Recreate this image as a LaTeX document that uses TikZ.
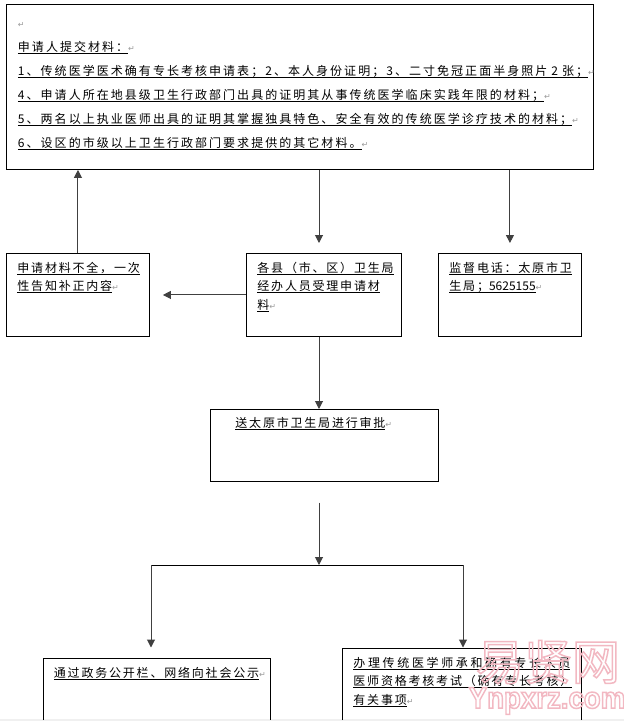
\documentclass[tikz,border=0pt]{standalone}
\usepackage{fontspec}
\usepackage{xcolor}
\setmainfont{Noto Sans CJK SC}[LetterSpace=15]
\newfontfamily\marksym{DejaVu Sans}
\newfontfamily\stampfont{Liberation Sans Bold}
\newfontfamily\stampcjk{Noto Sans CJK SC}
\newcommand{\ul}[1]{\leavevmode\setbox0\hbox{#1}\rlap{\rule[-2.4pt]{\wd0}{.9pt}}\box0}
\newcommand{\ret}{{\marksym\fontsize{8}{8}\selectfont\textcolor{black!40}{↵}}}
\newcommand{\outlined}[1]{\special{pdf:code q 1 Tr 1.5 w 0.95 0.72 0.76 RG}#1\special{pdf:code Q}}
\usetikzlibrary{arrows.meta, positioning}

\begin{document}
\begin{tikzpicture}[
  x=1pt, y=-1pt,
  box/.style 2 args={draw, line width=.9pt, anchor=north west, inner ysep=0pt, inner xsep=11pt,
    align=left, text height=19pt, text width=#1, text depth=#2,
    font=\fontsize{12}{18.5}\selectfont},
  flow/.style={draw, line width=1pt, black!75, -{Triangle[length=8pt,width=8pt]}},
  bar/.style={draw, line width=.9pt, black}
]
\useasboundingbox (0,0) rectangle (624,721);
\fill[black!6] (0,719) rectangle (624,721);
\clip (0,0) rectangle (624,719);

% boxes
\node [box={564pt}{142pt}, inner xsep=11.5pt, text height=23pt,
       font=\fontsize{12}{24}\selectfont\addfontfeature{LetterSpace=17}] (top) at (6,4)
  {\ret\\
   \ul{申请人提交材料：}\ret\\
   \ul{1、传统医学医术确有专长考核申请表；2、本人身份证明；3、二寸免冠正面半身照片 2 张；}\ret\\
   \ul{4、申请人所在地县级卫生行政部门出具的证明其从事传统医学临床实践年限的材料；}\ret\\
   \ul{5、两名以上执业医师出具的证明其掌握独具特色、安全有效的传统医学诊疗技术的材料；}\ret\\
   \ul{6、设区的市级以上卫生行政部门要求提供的其它材料。}\ret};
\node [box={121pt}{64pt}] (lack) at (6,253)
  {\ul{申请材料不全，一次}\\ \ul{性告知补正内容}\ret};
\node [box={133pt}{64pt}] (accept) at (246,253)
  {\ul{各县（市、区）卫生局}\\ \ul{经办人员受理申请材}\\ \ul{料}\ret};
\node [box={121pt}{64pt}] (phone) at (438,253)
  {\ul{监督电话：太原市卫}\\ \ul{生局；{\addfontfeature{LetterSpace=0}5625155}}\ret};
\node [box={178pt}{54pt}, inner xsep=25pt, text height=18pt] (review) at (210,409)
  {\ul{送太原市卫生局进行审批}\ret};
\node [box={205pt}{60pt}] (notice) at (42.5,658)
  {\ul{通过政务公开栏、网络向社会公示}\ret};
\node [box={217pt}{70pt}] (handle) at (342,648)
  {\ul{\addfontfeature{LetterSpace=22}办理传统医学师承和确有专长人员}\\ \ul{医师资格考核考试（确有专长考核）}\\ \ul{有关事项}\ret};

% watermark
\node [inner sep=0pt, font=\stampcjk\fontsize{48}{48}\selectfont] (stamptop) at (548,662) {\outlined{易贤网}};
\node [inner sep=0pt, font=\stampfont\fontsize{30}{30}\selectfont] (stamp) at (547,701) {\outlined{\scalebox{.92}[1]{Ynpxrz.com}}};

% fixed points
\coordinate (axis) at (319,0);
\coordinate (restart) at (319,502.5);
\coordinate (fork) at (319,565);
\coordinate (forkl) at (151,565);
\coordinate (forkr) at (463,565);

% arrows
\draw [flow] (lack.north) -- (lack.north |- top.south);
\draw [flow, shorten >=10pt] (axis |- top.south) -- (axis |- accept.north);
\draw [flow, shorten >=10pt] (phone.north |- top.south) -- (phone.north);
\draw [flow, shorten >=13pt] (accept.west) -- (lack.east);
\draw [flow] (axis |- accept.south) -- (axis |- review.north);
\draw [flow] (restart) -- (fork);
\draw [bar] (forkl) -- (forkr);
\draw [flow, shorten >=10.5pt] (forkl) -- (forkl |- notice.north);
\draw [flow, shorten >=.5pt] (forkr) -- (forkr |- handle.north);
\end{tikzpicture}
\end{document}
